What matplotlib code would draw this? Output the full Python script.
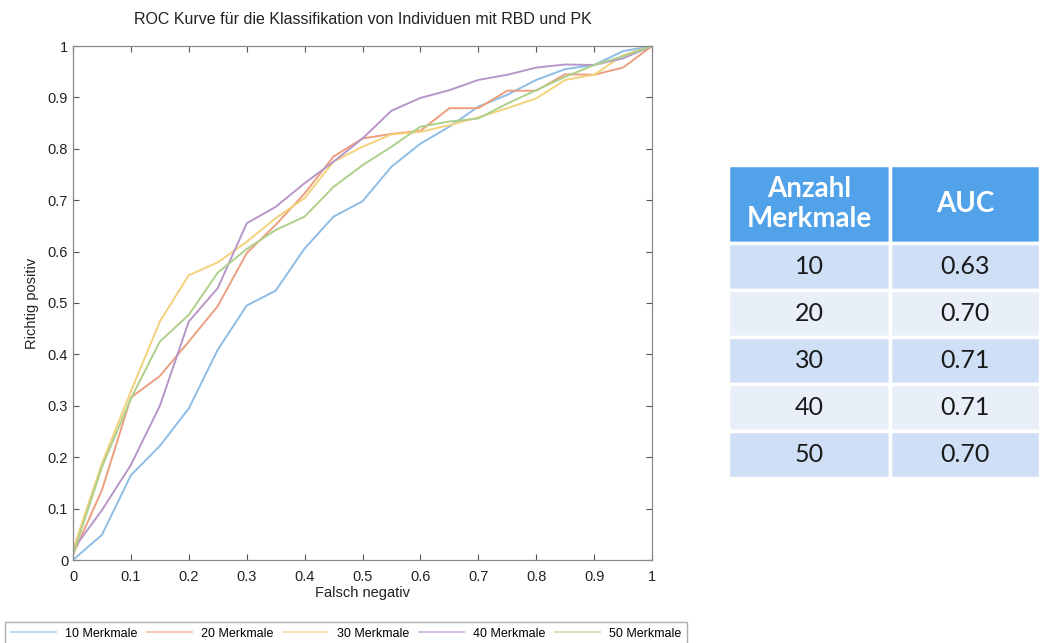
import numpy as np
import matplotlib
matplotlib.use('Agg')
import matplotlib.pyplot as plt
from matplotlib.ticker import FuncFormatter

# ROC points (false-negative axis every 0.05)
fpr = [0, 0.05, 0.1, 0.15, 0.2, 0.25, 0.3, 0.35, 0.4, 0.45, 0.5,
       0.55, 0.6, 0.65, 0.7, 0.75, 0.8, 0.85, 0.9, 0.95, 1]
tpr_10 = [0, 0.049, 0.165, 0.222, 0.295, 0.409, 0.495, 0.524, 0.606, 0.668, 0.698,
          0.765, 0.81, 0.843, 0.882, 0.905, 0.934, 0.955, 0.963, 0.99, 1]
tpr_20 = [0.01, 0.136, 0.316, 0.358, 0.425, 0.494, 0.597, 0.652, 0.713, 0.785, 0.82,
          0.829, 0.835, 0.879, 0.879, 0.913, 0.913, 0.945, 0.944, 0.958, 1]
tpr_30 = [0.02, 0.188, 0.328, 0.464, 0.554, 0.579, 0.619, 0.665, 0.704, 0.775, 0.804,
          0.828, 0.833, 0.846, 0.861, 0.879, 0.898, 0.934, 0.944, 0.982, 1]
tpr_40 = [0.02, 0.097, 0.185, 0.30, 0.464, 0.529, 0.655, 0.687, 0.733, 0.775, 0.82,
          0.874, 0.899, 0.914, 0.934, 0.944, 0.958, 0.964, 0.963, 0.976, 1]
tpr_50 = [0.01, 0.181, 0.314, 0.425, 0.477, 0.559, 0.605, 0.642, 0.668, 0.726, 0.768,
          0.804, 0.843, 0.853, 0.859, 0.888, 0.914, 0.94, 0.963, 0.98, 1]

labels = ['10 Merkmale', '20 Merkmale', '30 Merkmale', '40 Merkmale', '50 Merkmale']
colors = ['#8dbde6', '#ec9f7f', '#f4d27c', '#b896c8', '#add08a']

# AUC table
table_header = ['Anzahl\nMerkmale', 'AUC']
n_features = ['10', '20', '30', '40', '50']
auc = ['0.63', '0.70', '0.71', '0.71', '0.70']

fig = plt.figure(figsize=(10.4, 6.43), dpi=100)
ax = fig.add_axes([73/1040, 83/643, 579/1040, 514/643])

for tpr, lab, col in zip([tpr_10, tpr_20, tpr_30, tpr_40, tpr_50], labels, colors):
    ax.plot(fpr, tpr, color=col, lw=1.4, label=lab)

ax.set_xlim(0, 1)
ax.set_ylim(0, 1)
ax.set_xticks(np.arange(0, 1.01, 0.1))
ax.set_yticks(np.arange(0, 1.01, 0.1))
fmt = FuncFormatter(lambda v, p: '%g' % round(v, 2))
ax.xaxis.set_major_formatter(fmt)
ax.yaxis.set_major_formatter(fmt)
ax.tick_params(direction='in', top=True, right=True, length=4, width=0.8,
               color='#555555', labelsize=10.5, labelcolor='#222222')
ax.tick_params(axis='x', pad=7)
for s in ax.spines.values():
    s.set_color('#888888')
    s.set_linewidth(0.9)
for t in ax.get_xticklabels() + ax.get_yticklabels():
    t.set_fontfamily('Liberation Sans')

ax.set_title('ROC Kurve für die Klassifikation von Individuen mit RBD und PK',
             fontsize=11.5, family='Liberation Sans', color='#222222', pad=16)
ax.set_xlabel('Falsch negativ', fontsize=10.5, family='Liberation Sans', color='#222222', labelpad=2)
ax.set_ylabel('Richtig positiv', fontsize=10.5, family='Liberation Sans', color='#222222', labelpad=6)

leg = fig.legend(loc='upper left', bbox_to_anchor=(5/1040, 1 - 622/643), ncol=5,
                 frameon=True, fancybox=False, handlelength=3.6, handletextpad=0.75,
                 columnspacing=0.75, borderpad=0.45, borderaxespad=0,
                 prop={'family': 'Liberation Sans', 'size': 9})
leg.get_frame().set_edgecolor('#999999')
leg.get_frame().set_linewidth(1.0)
for line in leg.get_lines():
    line.set_alpha(0.6)

# table on the right
tax = fig.add_axes([728/1040, (643-478)/643, (1040-728)/1040, (478-165)/643])
tax.axis('off')
cells = [[a, b] for a, b in zip(n_features, auc)]
tbl = tax.table(cellText=cells, colLabels=table_header, bbox=[0, 0, 1, 1],
                cellLoc='center', colWidths=[0.52, 0.48])
tbl.auto_set_font_size(False)
head_h = 78 / 313
row_h = (1 - head_h) / len(n_features)
for (r, c), cell in tbl.get_celld().items():
    cell.set_edgecolor('white')
    cell.set_linewidth(2.5)
    if r == 0:
        cell.set_height(head_h)
        cell.set_facecolor('#52a2ea')
        cell.get_text().set_color('white')
        cell.get_text().set_fontweight('bold')
        cell.get_text().set_fontsize(20)
        cell.get_text().set_fontfamily('Lato')
        cell.get_text().set_linespacing(1.15)
    else:
        cell.set_height(row_h)
        cell.set_facecolor('#cfdff6' if r % 2 == 1 else '#e8eff9')
        cell.get_text().set_fontsize(18)
        cell.get_text().set_fontfamily('Lato')
        cell.get_text().set_color('#1a1a1a')

fig.savefig('out.png', dpi=100)
